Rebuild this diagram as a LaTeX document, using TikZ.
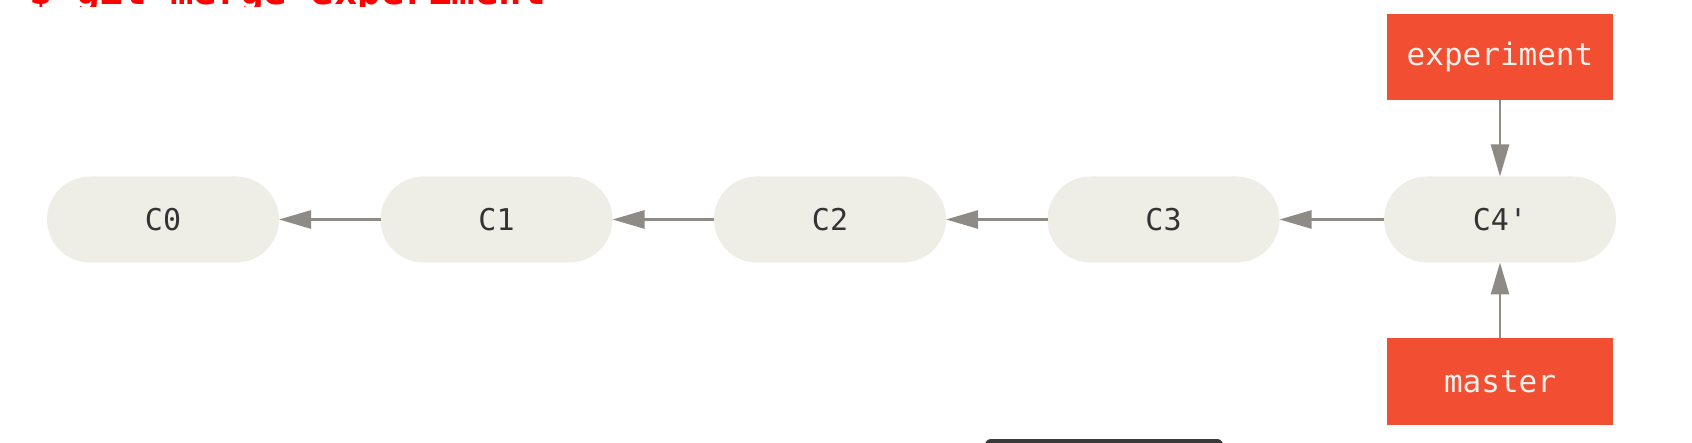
\documentclass[tikz,border=0pt]{standalone}
\usepackage{fontspec}
\setmonofont{DejaVu Sans Mono}
\usetikzlibrary{arrows.meta}
\definecolor{gitred}{HTML}{F14E32}
\definecolor{commitfill}{HTML}{EEEEE7}
\definecolor{arrowgray}{HTML}{8E8A85}
\definecolor{labeltext}{HTML}{F2F0EA}
\definecolor{committext}{HTML}{333333}
\definecolor{tipdark}{HTML}{3A3A3A}
\tikzset{
  commit/.style={fill=commitfill, draw=none, rounded corners=43pt,
    minimum width=232pt, minimum height=86pt, inner sep=0pt, outer sep=0pt,
    text=committext, font=\ttfamily\fontsize{30}{30}\selectfont},
  branch/.style={fill=gitred, draw=none, minimum width=226pt, minimum height=86pt,
    inner sep=0pt, outer sep=0pt, text=labeltext,
    font=\ttfamily\fontsize{31}{31}\selectfont},
  parent/.style={draw=arrowgray, line width=2.5pt,
    -{Triangle[length=32pt,width=18pt]}, arrowgray}
}
\begin{document}
\begin{tikzpicture}[x=1pt,y=-1pt]
\useasboundingbox (0,0) rectangle (1692,443);
\fill[white] (0,0) rectangle (1692,443);
% cut-off command text at the top (cropped in the reference as well)
\begin{scope}
\clip (0,-50) rectangle (1692,7);
\node[anchor=base west, inner sep=0pt, text=red,
  font=\ttfamily\bfseries\fontsize{39}{39}\selectfont] (cmd) at (29,5) {\$ git merge experiment};
\end{scope}
% commits
\node[commit] (c0) at (163,219.5) {C0};
\node[commit] (c1) at (496.5,219.5) {C1};
\node[commit] (c2) at (830,219.5) {C2};
\node[commit] (c3) at (1163.5,219.5) {C3};
\node[commit] (c4) at (1500,219.5) {C4'};
% branches
\node[branch] (exp) at (1500,57) {experiment};
\node[branch] (master) at (1500,381.5) {master};
% parent links
\draw[parent] (c1) -- (c0);
\draw[parent] (c2) -- (c1);
\draw[parent] (c3) -- (c2);
\draw[parent] (c4) -- (c3);
\draw[parent] (exp) -- (c4);
\draw[parent] (master) -- (c4);
% partially visible dark tooltip at the bottom
\fill[tipdark, rounded corners=6pt] (985,439) rectangle (1223,470);
\end{tikzpicture}
\end{document}
